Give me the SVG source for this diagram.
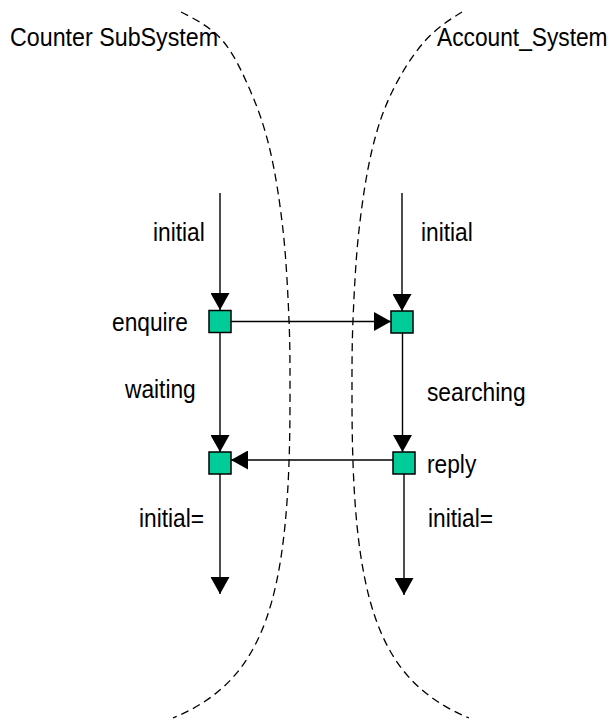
<svg xmlns="http://www.w3.org/2000/svg" width="613" height="720" viewBox="0 0 613 720">
<style>
text{font-family:"Liberation Sans",Arial,sans-serif;font-size:26px;fill:#000}
.c{stroke:#000;stroke-width:1.4;fill:none;marker-end:url(#ah)}
.b{stroke:#000;stroke-width:1.3;fill:none;stroke-dasharray:8,5}
.n{fill:#00CC99;stroke:#000;stroke-width:1.5}
</style>
<defs>
<marker id="ah" markerUnits="userSpaceOnUse" markerWidth="18" markerHeight="19" refX="17" refY="9.5" orient="auto" viewBox="0 0 18 19">
<path d="M0,0 L17,9.5 L0,19 z" fill="#000"/>
</marker>
</defs>
<g id="boundaries">
<path class="b" d="M181,12 C195,19 210.5,27 222,40 C233.5,53 242,71.7 250,90 C258,108.3 264.5,126.7 270,150 C275.5,173.3 279.8,201.7 283,230 C286.2,258.3 287.8,291.7 289,320 C290.2,348.3 290,373.3 290,400 C290,600 265,680 173,718"/>
<path class="b" d="M462,12 C449,20 435.7,28.7 424,42 C412.3,55.3 400.7,74 392,92 C383.3,110 377.5,127 372,150 C366.5,173 362.2,201.7 359,230 C355.8,258.3 354.2,291.7 353,320 C351.8,348.3 352,373.3 352,400 C352,600 377,680 469,718"/>
</g>
<g id="titles">
<text transform="translate(10,46) scale(0.895,1)">Counter SubSystem</text>
<text transform="translate(437,46) scale(0.875,1)">Account_System</text>
</g>
<g id="connectors">
<line class="c" x1="220" y1="193" x2="220" y2="310"/>
<line class="c" x1="402" y1="193" x2="402" y2="311"/>
<line class="c" x1="231" y1="321.5" x2="391" y2="321.5"/>
<line class="c" x1="220" y1="332" x2="220" y2="452"/>
<line class="c" x1="402.5" y1="333" x2="402.5" y2="452"/>
<line class="c" x1="393" y1="460" x2="231" y2="460"/>
<line class="c" x1="220" y1="474" x2="220" y2="594"/>
<line class="c" x1="404" y1="474" x2="404" y2="595"/>
<text transform="translate(153,241) scale(0.875,1)">initial</text>
<text transform="translate(421,241) scale(0.875,1)">initial</text>
<text transform="translate(125,398) scale(0.875,1)">waiting</text>
<text transform="translate(427,401) scale(0.875,1)">searching</text>
<text transform="translate(139,527) scale(0.875,1)">initial=</text>
<text transform="translate(428,527) scale(0.875,1)">initial=</text>
</g>
<g id="enquire">
<rect class="n" x="209" y="310.5" width="22" height="22"/>
<text transform="translate(112,331) scale(0.875,1)">enquire</text>
</g>
<g id="account_enquire">
<rect class="n" x="391" y="311" width="22" height="22"/>
</g>
<g id="counter_reply">
<rect class="n" x="209" y="452" width="22" height="22"/>
</g>
<g id="reply">
<rect class="n" x="393" y="452" width="22" height="22"/>
<text transform="translate(427,473) scale(0.875,1)">reply</text>
</g>
</svg>
